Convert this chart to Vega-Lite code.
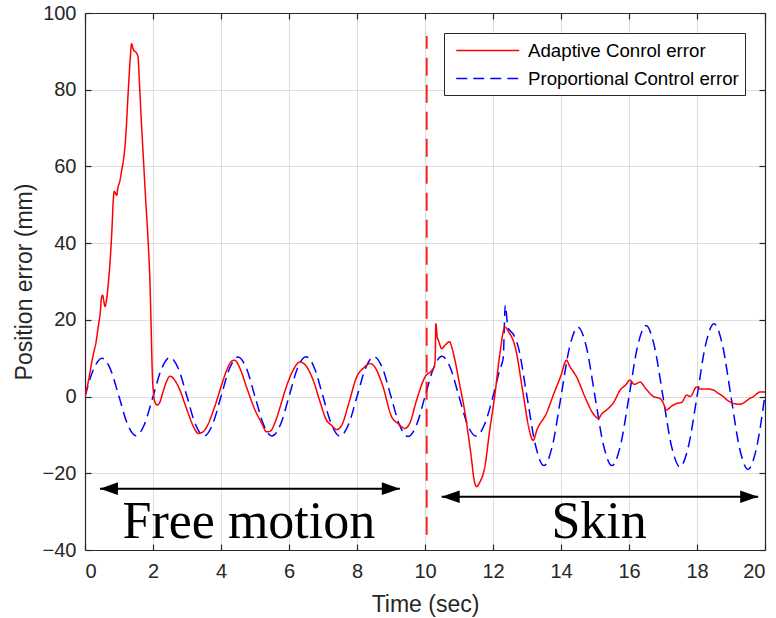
{
  "$schema": "https://vega.github.io/schema/vega-lite/v6.json",
  "width": 680,
  "height": 537,
  "autosize": "none",
  "padding": {"left": 85, "top": 13, "right": 11, "bottom": 68},
  "background": "white",
  "config": {
    "view": {"stroke": null},
    "font": "Liberation Sans",
    "axis": {
      "domainColor": "#262626", "domainWidth": 1.2,
      "tickColor": "#262626", "tickSize": -6, "tickWidth": 1.2,
      "labelFont": "Liberation Sans", "labelFontSize": 20, "labelColor": "#262626",
      "titleFont": "Liberation Sans", "titleFontSize": 23, "titleColor": "#262626", "titleFontWeight": "normal",
      "gridColor": "#dedede", "gridWidth": 1
    }
  },
  "resolve": {"axis": {"x": "independent", "y": "independent"}},
  "layer": [
    {
      "data": {"values": [
        {"t":0,"v":0},{"t":0.25,"v":7.1},{"t":0.5,"v":10},{"t":0.75,"v":7.1},{"t":1,"v":0},{"t":1.25,"v":-7.2},{"t":1.5,"v":-10.2},{"t":1.75,"v":-7.2},
        {"t":2,"v":0},{"t":2.25,"v":7.2},{"t":2.5,"v":10.2},{"t":2.75,"v":7.2},{"t":3,"v":0},{"t":3.25,"v":-7.3},{"t":3.5,"v":-10.3},{"t":3.75,"v":-7.3},
        {"t":4,"v":0},{"t":4.25,"v":7.3},{"t":4.5,"v":10.3},{"t":4.75,"v":7.3},{"t":5,"v":0},{"t":5.25,"v":-7.3},{"t":5.5,"v":-10.3},{"t":5.75,"v":-7.3},
        {"t":6,"v":0},{"t":6.25,"v":7.4},{"t":6.5,"v":10.4},{"t":6.75,"v":7.4},{"t":7,"v":0},{"t":7.25,"v":-7.3},{"t":7.5,"v":-10.3},{"t":7.75,"v":-7.3},
        {"t":8,"v":0},{"t":8.25,"v":7.4},{"t":8.5,"v":10.4},{"t":8.75,"v":7.4},{"t":9,"v":0},{"t":9.25,"v":-7.4},{"t":9.5,"v":-10.4},{"t":9.75,"v":-7.4},
        {"t":10,"v":0},{"t":10.25,"v":7.4},{"t":10.5,"v":10.5},{"t":10.75,"v":7.4},{"t":11,"v":0},{"t":11.25,"v":-7.3},{"t":11.5,"v":-10.3},{"t":11.75,"v":-7.3},
        {"t":12,"v":0},{"t":12.2,"v":7},{"t":12.3,"v":10},{"t":12.36,"v":23.8},{"t":12.44,"v":18},{"t":12.6,"v":16.2},{"t":12.75,"v":12.7},
        {"t":13,"v":0},{"t":13.25,"v":-12.7},{"t":13.5,"v":-18},{"t":13.75,"v":-12.7},{"t":14,"v":0},{"t":14.25,"v":12.8},{"t":14.5,"v":18.1},{"t":14.75,"v":12.8},
        {"t":15,"v":0},{"t":15.25,"v":-12.7},{"t":15.5,"v":-18},{"t":15.75,"v":-12.7},{"t":16,"v":0},{"t":16.25,"v":13},{"t":16.5,"v":18.5},{"t":16.75,"v":13},
        {"t":17,"v":0},{"t":17.25,"v":-12.9},{"t":17.5,"v":-18.3},{"t":17.75,"v":-12.9},{"t":18,"v":0},{"t":18.25,"v":13.4},{"t":18.5,"v":19},{"t":18.75,"v":13.4},
        {"t":19,"v":0},{"t":19.25,"v":-13.4},{"t":19.5,"v":-19},{"t":19.75,"v":-13.4},{"t":20,"v":0.5}
      ]},
      "mark": {"type": "line", "interpolate": "monotone", "strokeWidth": 1.5, "clip": true},
      "encoding": {
        "x": {"field": "t", "type": "quantitative", "scale": {"domain": [0, 20], "nice": false},
              "axis": {"values": [0,2,4,6,8,10,12,14,16,18,20], "title": "Time (sec)", "labelPadding": 17, "titlePadding": 12, "grid": true}},
        "y": {"field": "v", "type": "quantitative", "scale": {"domain": [-40, 100], "nice": false},
              "axis": {"values": [-40,-20,0,20,40,60,80,100], "title": "Position error (mm)", "labelPadding": 15, "titlePadding": 6, "grid": true}},
        "color": {"datum": "Proportional Control error", "type": "nominal",
                  "scale": {"domain": ["Adaptive Conrol error", "Proportional Control error"], "range": ["#ff0000", "#0000ff"]},
                  "legend": {"title": null, "orient": "none", "legendX": 359, "legendY": 20,
                             "symbolType": "M-0.5,0H5.5", "symbolSize": 441, "symbolStrokeWidth": 1.5,
                             "labelFont": "Liberation Sans", "labelFontSize": 18.7, "labelColor": "#000000", "labelOffset": 55, "labelLimit": 0,
                             "padding": 6, "rowPadding": 6, "strokeColor": "#262626", "fillColor": "white"}},
        "strokeDash": {"datum": "Proportional Control error", "type": "nominal",
                       "scale": {"domain": ["Adaptive Conrol error", "Proportional Control error"], "range": [[1, 0], [11, 6]]},
                       "legend": {"title": null, "orient": "none", "legendX": 359, "legendY": 20,
                             "symbolType": "M-0.5,0H5.5", "symbolSize": 441, "symbolStrokeWidth": 1.5,
                             "labelFont": "Liberation Sans", "labelFontSize": 18.7, "labelColor": "#000000", "labelOffset": 55, "labelLimit": 0,
                             "padding": 6, "rowPadding": 6, "strokeColor": "#262626", "fillColor": "white"}}
      }
    },
    {
      "data": {"values": [
        {"t":0,"v":0},{"t":0.1,"v":4},{"t":0.2,"v":9},{"t":0.25,"v":11.2},{"t":0.32,"v":14},{"t":0.39,"v":18.2},{"t":0.45,"v":22},{"t":0.49,"v":26},
        {"t":0.52,"v":26.4},{"t":0.56,"v":24.5},{"t":0.59,"v":23.5},{"t":0.63,"v":25},{"t":0.7,"v":31},{"t":0.74,"v":35.5},{"t":0.8,"v":45},{"t":0.83,"v":51},
        {"t":0.86,"v":53.5},{"t":0.88,"v":53.3},{"t":0.93,"v":52.5},{"t":0.97,"v":54.5},{"t":1.03,"v":56.4},{"t":1.08,"v":59},{"t":1.13,"v":61.6},{"t":1.2,"v":68},
        {"t":1.27,"v":79.3},{"t":1.33,"v":88},{"t":1.37,"v":92},{"t":1.42,"v":90.5},{"t":1.47,"v":90},{"t":1.52,"v":89.5},{"t":1.56,"v":88.5},{"t":1.6,"v":82},
        {"t":1.65,"v":73},{"t":1.71,"v":63.3},{"t":1.78,"v":52},{"t":1.86,"v":39.9},{"t":1.91,"v":30},{"t":1.94,"v":20},{"t":1.98,"v":6},{"t":2.02,"v":0.5},
        {"t":2.06,"v":-1.5},{"t":2.12,"v":-2.2},{"t":2.2,"v":-1.5},{"t":2.28,"v":0.8},{"t":2.38,"v":3.5},{"t":2.5,"v":5.3},{"t":2.62,"v":4.5},{"t":2.79,"v":1.7},
        {"t":3.0,"v":-3.5},{"t":3.2,"v":-8},{"t":3.33,"v":-9.6},{"t":3.45,"v":-9.3},{"t":3.58,"v":-7.9},{"t":3.8,"v":-3},{"t":4.0,"v":2.5},{"t":4.15,"v":6.5},
        {"t":4.31,"v":9.2},{"t":4.4,"v":9.5},{"t":4.56,"v":7.3},{"t":4.75,"v":2.5},{"t":5.0,"v":-3.5},{"t":5.2,"v":-7},{"t":5.34,"v":-9.2},{"t":5.45,"v":-9},
        {"t":5.6,"v":-6.5},{"t":5.74,"v":-2.7},{"t":5.9,"v":2},{"t":6.1,"v":6.5},{"t":6.32,"v":9},{"t":6.45,"v":8.5},{"t":6.71,"v":4.3},{"t":6.9,"v":-1},
        {"t":7.1,"v":-6.1},{"t":7.25,"v":-7.5},{"t":7.4,"v":-8.6},{"t":7.55,"v":-7.5},{"t":7.75,"v":-2},{"t":7.99,"v":5.1},{"t":8.2,"v":7.5},{"t":8.38,"v":8.6},
        {"t":8.5,"v":8},{"t":8.75,"v":3},{"t":9.02,"v":-5.3},{"t":9.2,"v":-7},{"t":9.41,"v":-8.3},{"t":9.55,"v":-7},{"t":9.75,"v":-1},{"t":10.0,"v":5.1},
        {"t":10.2,"v":6.8},{"t":10.28,"v":8},{"t":10.3,"v":10},{"t":10.32,"v":19},{"t":10.36,"v":15.5},{"t":10.4,"v":14.5},{"t":10.49,"v":12.5},{"t":10.6,"v":13.5},
        {"t":10.72,"v":14.3},{"t":10.8,"v":12.5},{"t":10.88,"v":9.5},{"t":11.0,"v":4},{"t":11.18,"v":-4.4},{"t":11.35,"v":-15},{"t":11.45,"v":-22},{"t":11.52,"v":-23.5},
        {"t":11.6,"v":-22.5},{"t":11.76,"v":-18.3},{"t":11.9,"v":-9},{"t":12.06,"v":0.8},{"t":12.2,"v":11},{"t":12.35,"v":18.1},{"t":12.45,"v":17},{"t":12.65,"v":13},
        {"t":12.9,"v":0},{"t":13.05,"v":-8},{"t":13.18,"v":-11.4},{"t":13.3,"v":-8.5},{"t":13.57,"v":-4.4},{"t":13.8,"v":1},{"t":14.0,"v":5.5},{"t":14.16,"v":9.5},
        {"t":14.25,"v":8},{"t":14.46,"v":5.1},{"t":14.7,"v":0},{"t":14.95,"v":-4.5},{"t":15.1,"v":-5.7},{"t":15.2,"v":-4.5},{"t":15.34,"v":-3.5},{"t":15.55,"v":-1.5},
        {"t":15.74,"v":1.7},{"t":15.9,"v":3},{"t":16.03,"v":4.3},{"t":16.15,"v":3.2},{"t":16.25,"v":3.5},{"t":16.32,"v":3.8},{"t":16.5,"v":2},{"t":16.72,"v":0},
        {"t":16.91,"v":-0.5},{"t":17.0,"v":-1.5},{"t":17.1,"v":-3.5},{"t":17.25,"v":-2.5},{"t":17.4,"v":-1.8},{"t":17.55,"v":-1.5},{"t":17.7,"v":0.4},{"t":17.8,"v":0},
        {"t":17.99,"v":2.5},{"t":18.1,"v":2},{"t":18.3,"v":2},{"t":18.48,"v":1.7},{"t":18.6,"v":1},{"t":18.77,"v":0},{"t":18.9,"v":-1},{"t":19.07,"v":-1.8},
        {"t":19.26,"v":-2},{"t":19.4,"v":-1.5},{"t":19.55,"v":-0.5},{"t":19.66,"v":0},{"t":19.8,"v":1},{"t":19.85,"v":1.2},{"t":20.0,"v":1.2}
      ]},
      "mark": {"type": "line", "interpolate": "monotone", "strokeWidth": 1.5, "clip": true},
      "encoding": {
        "x": {"field": "t", "type": "quantitative", "axis": null},
        "y": {"field": "v", "type": "quantitative", "axis": null},
        "color": {"datum": "Adaptive Conrol error", "type": "nominal"},
        "strokeDash": {"datum": "Adaptive Conrol error", "type": "nominal"}
      }
    },
    {
      "data": {"values": [{"x": 10.05, "y1": -36, "y2": 94}]},
      "mark": {"type": "rule", "color": "#ff0000", "opacity": 0.85, "strokeWidth": 2, "strokeDash": [18, 9]},
      "encoding": {
        "x": {"field": "x", "type": "quantitative", "axis": null},
        "y": {"field": "y1", "type": "quantitative", "axis": null},
        "y2": {"field": "y2"}
      }
    },
    {
      "data": {"values": [{"x1": 0.44, "x2": 9.26, "y": -24}, {"x1": 10.49, "x2": 19.8, "y": -26.1}]},
      "mark": {"type": "rule", "color": "#000000", "strokeWidth": 2},
      "encoding": {
        "x": {"field": "x1", "type": "quantitative", "axis": null},
        "x2": {"field": "x2"},
        "y": {"field": "y", "type": "quantitative", "axis": null}
      }
    },
    {
      "data": {"values": [
        {"x": 0.44, "y": -24, "dir": "left"}, {"x": 9.26, "y": -24, "dir": "right"},
        {"x": 10.49, "y": -26.1, "dir": "left"}, {"x": 19.8, "y": -26.1, "dir": "right"}
      ]},
      "mark": {"type": "point", "filled": true, "color": "#000000", "opacity": 1, "size": 324, "strokeWidth": 0},
      "encoding": {
        "x": {"field": "x", "type": "quantitative", "axis": null},
        "y": {"field": "y", "type": "quantitative", "axis": null},
        "shape": {"field": "dir", "type": "nominal", "legend": null,
                  "scale": {"domain": ["left", "right"], "range": ["M0,0L2,-0.7L2,0.7Z", "M0,0L-2,-0.7L-2,0.7Z"]}}
      }
    },
    {
      "data": {"values": [{"x": 4.82, "y": -37, "label": "Free motion"}, {"x": 15.12, "y": -37, "label": "Skin"}]},
      "mark": {"type": "text", "font": "Liberation Serif", "fontSize": 52, "color": "#000000", "align": "center", "baseline": "alphabetic"},
      "encoding": {
        "x": {"field": "x", "type": "quantitative", "axis": null},
        "y": {"field": "y", "type": "quantitative", "axis": null},
        "text": {"field": "label"}
      }
    },
    {
      "data": {"values": [{"x": 0, "y": 0}]},
      "mark": {"type": "point", "opacity": 0},
      "encoding": {
        "x": {"field": "x", "type": "quantitative",
              "axis": {"orient": "top", "values": [0,2,4,6,8,10,12,14,16,18,20], "labels": false, "title": null, "grid": false}},
        "y": {"field": "y", "type": "quantitative",
              "axis": {"orient": "right", "values": [-40,-20,0,20,40,60,80,100], "labels": false, "title": null, "grid": false}}
      }
    }
  ]
}
